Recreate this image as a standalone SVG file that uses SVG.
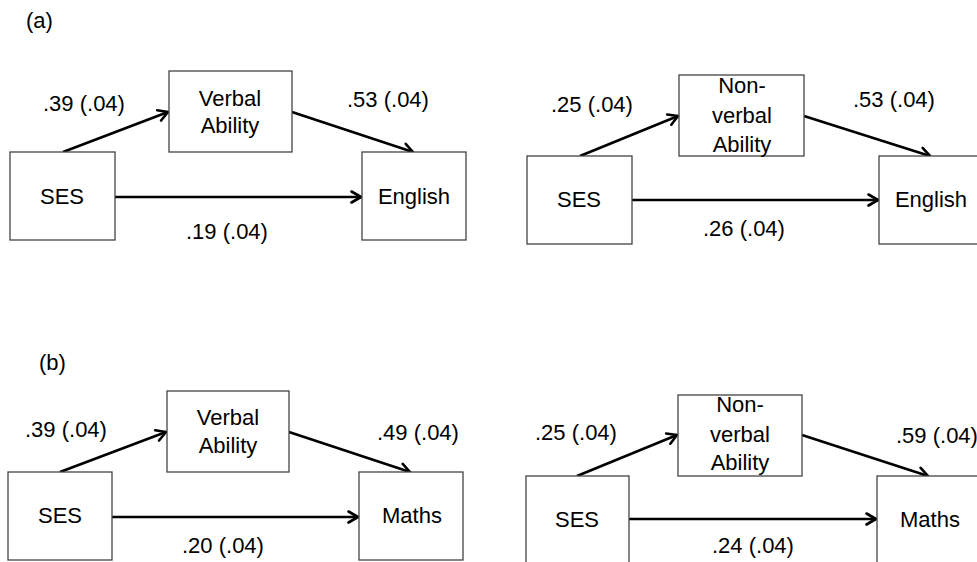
<svg xmlns="http://www.w3.org/2000/svg" width="977" height="562" viewBox="0 0 977 562">
<style>
text{font-family:"Liberation Sans",Arial,sans-serif;font-size:22px;fill:#000}
.n rect{fill:#fff;stroke:#444;stroke-width:1.3}
.n text{text-anchor:middle}
.c line{stroke:#000;stroke-width:2.6;marker-end:url(#ah)}
</style>
<defs>
<marker id="ah" markerUnits="userSpaceOnUse" viewBox="0 0 14 14" refX="12.5" refY="7" markerWidth="14" markerHeight="14" orient="auto">
<path d="M3,1.5 L12.5,7 L3,12.5" fill="none" stroke="#000" stroke-width="2.6" stroke-linecap="round" stroke-linejoin="round"/>
</marker>
</defs>
<rect width="977" height="562" fill="#fff"/>
<text x="26" y="28">(a)</text>
<text x="39" y="370">(b)</text>

<!-- connectors -->
<g class="c" id="connectors">
<line x1="63" y1="152" x2="168" y2="112"/>
<line x1="292" y1="112" x2="413" y2="152"/>
<line x1="115" y1="197" x2="361" y2="197"/>
<line x1="580" y1="156" x2="678" y2="116"/>
<line x1="804" y1="116" x2="930" y2="156"/>
<line x1="632" y1="200" x2="878" y2="200"/>
<line x1="60" y1="472" x2="166" y2="432"/>
<line x1="289" y1="432" x2="410" y2="472"/>
<line x1="112" y1="517" x2="358" y2="517"/>
<line x1="577" y1="476" x2="677" y2="435"/>
<line x1="802" y1="435" x2="928" y2="476"/>
<line x1="629" y1="519" x2="876" y2="519"/>
</g>

<!-- labels -->
<g id="labels">
<text x="43" y="111">.39 (.04)</text>
<text x="347" y="107">.53 (.04)</text>
<text x="186" y="239">.19 (.04)</text>
<text x="551" y="112">.25 (.04)</text>
<text x="853" y="107">.53 (.04)</text>
<text x="703" y="236">.26 (.04)</text>
<text x="25" y="437">.39 (.04)</text>
<text x="377" y="440">.49 (.04)</text>
<text x="182" y="553">.20 (.04)</text>
<text x="535" y="440">.25 (.04)</text>
<text x="896" y="443">.59 (.04)</text>
<text x="712" y="553">.24 (.04)</text>
</g>

<!-- panel a left -->
<g class="n" id="a1-ses"><rect x="10" y="152" width="105" height="88"/><text x="62" y="204">SES</text></g>
<g class="n" id="a1-verbal"><rect x="169" y="71" width="123" height="81"/><text x="230" y="106">Verbal</text><text x="230" y="133">Ability</text></g>
<g class="n" id="a1-english"><rect x="362" y="152" width="104" height="88"/><text x="414" y="204">English</text></g>

<!-- panel a right -->
<g class="n" id="a2-ses"><rect x="527" y="156" width="105" height="88"/><text x="579" y="207">SES</text></g>
<g class="n" id="a2-nonverbal"><rect x="679" y="75" width="125" height="81"/><text x="742" y="93">Non-</text><text x="742" y="123">verbal</text><text x="742" y="152">Ability</text></g>
<g class="n" id="a2-english"><rect x="879" y="156" width="105" height="88"/><text x="931" y="207">English</text></g>

<!-- panel b left -->
<g class="n" id="b1-ses"><rect x="8" y="472" width="104" height="88"/><text x="60" y="523">SES</text></g>
<g class="n" id="b1-verbal"><rect x="167" y="391" width="122" height="81"/><text x="228" y="425">Verbal</text><text x="228" y="453">Ability</text></g>
<g class="n" id="b1-maths"><rect x="359" y="472" width="104" height="88"/><text x="412" y="523">Maths</text></g>

<!-- panel b right -->
<g class="n" id="b2-ses"><rect x="526" y="476" width="103" height="88"/><text x="577" y="527">SES</text></g>
<g class="n" id="b2-nonverbal"><rect x="678" y="395" width="124" height="81"/><text x="740" y="412">Non-</text><text x="740" y="442">verbal</text><text x="740" y="470">Ability</text></g>
<g class="n" id="b2-maths"><rect x="877" y="476" width="105" height="88"/><text x="930" y="527">Maths</text></g>
</svg>
